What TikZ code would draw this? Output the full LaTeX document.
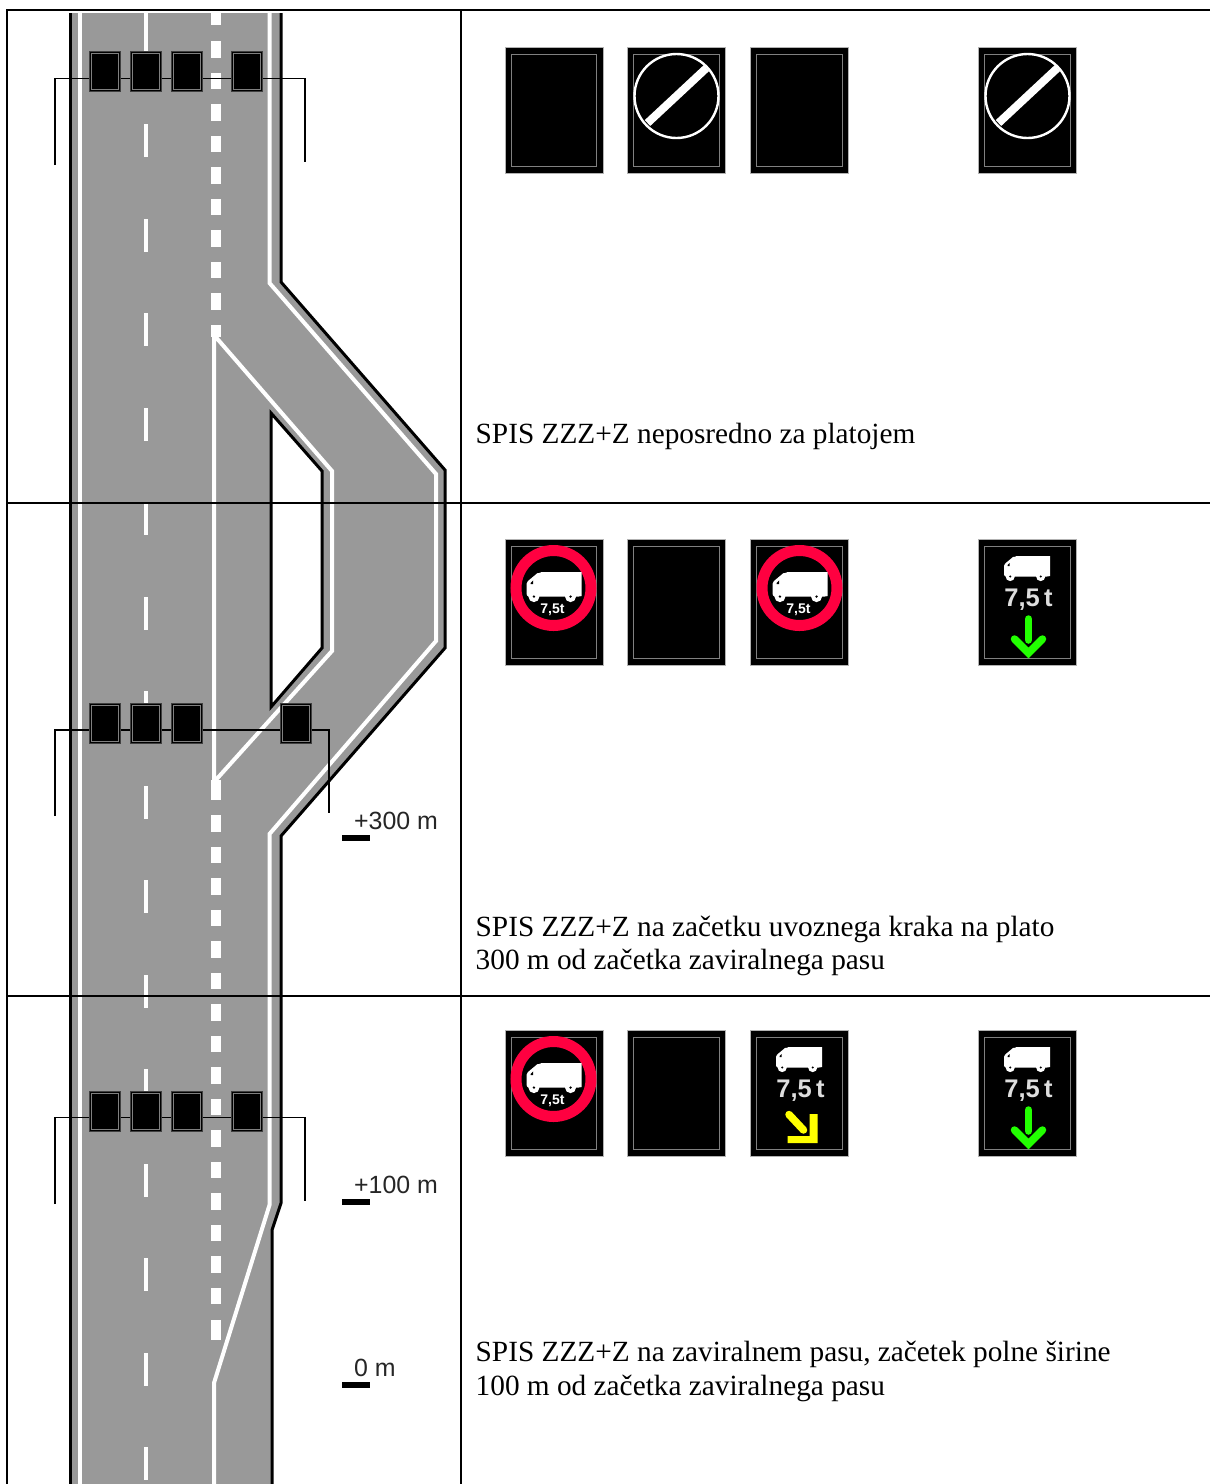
\documentclass[tikz,border=0pt]{standalone}
\usepackage{fontspec}
\setmainfont{Liberation Serif}
\newfontfamily\arialf{Liberation Sans}
\definecolor{roadgray}{HTML}{999999}
\definecolor{ringred}{HTML}{FF0040}
\definecolor{arrowgreen}{HTML}{22FF00}
\definecolor{arrowyellow}{HTML}{FFFF00}
\tikzset{
  frameline/.style={black,line width=2pt},
  edgeline/.style={black,line width=3pt,miter limit=20},
  whiteline/.style={white,line width=4pt,miter limit=20},
  cable/.style={black,line width=1.6pt},
  gantrysign/.style={rectangle,anchor=north west,fill=black,draw=black!75,line width=1pt,minimum width=31pt,minimum height=40pt,inner sep=0pt},
  gantryinner/.style={draw=black!50,line width=.7pt},
  vmssign/.style={rectangle,anchor=north west,fill=black,draw=black!30,line width=.8pt,minimum width=98pt,minimum height=126pt,inner sep=0pt},
  vmsinner/.style={draw=black!50,line width=.9pt},
  caption/.style={anchor=base west,inner sep=0pt,font=\fontsize{29.3}{33}\selectfont},
  kmlabel/.style={anchor=base west,inner sep=0pt,font=\arialf\fontsize{24.9}{28}\selectfont,text=black!85},
  kmbar/.style={rectangle,fill=black,minimum width=28pt,minimum height=6pt,inner sep=0pt,anchor=north west},
  tonnage/.style={inner sep=0pt,anchor=base,font=\arialf\bfseries\fontsize{25.5}{28}\selectfont,text=black!13},
}
% sign on the gantry
\newcommand\gsign[3]{%
  \node[gantrysign] (#1) at (#2,#3) {};
  \draw[gantryinner] ([shift={(2.5,2.5)}]#1.north west) rectangle ([shift={(-2.5,-2.5)}]#1.south east);
}
% variable message sign
\newcommand\vms[3]{%
  \node[vmssign] (#1) at (#2,#3) {};
  \draw[vmsinner] ([shift={(6.5,7)}]#1.north west) rectangle ([shift={(-6.5,-7)}]#1.south east);
}
\newcommand\truckshape[3]{%
  \begin{scope}[shift={(#1,#2)},scale=#3]
    \fill[white] (12.7,0) -- (46,0) -- (46,20) -- (43,20.5) -- (12,20.5) -- (2,20.5) to[out=180,in=-90] (0,18) -- (0,10) to[out=90,in=-135] (3,6) -- (9,1) to[out=-30,in=180] (12.7,0) -- cycle;
    \fill[white] (6.2,20.5) circle (4.6);
    \fill[white] (36.7,20.5) circle (4.6);
    \fill[black] (6.2,20.5) circle (1.1);
    \fill[black] (36.7,20.5) circle (1.1);
    \fill[black] (3.5,9) -- (5.5,7) -- (5.5,10) -- (3.5,10) -- cycle;
  \end{scope}
}
\newcommand\liftsign[2]{%
  \begin{scope}[shift={(#1,#2)}]
    \draw[white,line width=2.4pt] (49,49) circle (42);
    \draw[white,line width=8pt] (20,76) -- (79,21);
  \end{scope}
}
\newcommand\ringsign[3]{%
  \begin{scope}[shift={(#2,#3)}]
    \draw[ringred,line width=11pt] (49,49) circle (37.5);
    \truckshape{22}{33}{1.2}
    \node[inner sep=0pt,font=\arialf\bfseries\fontsize{14}{15}\selectfont,text=white] (#1) at (48,71) {7,5t};
  \end{scope}
}
\newcommand\infosign[3]{%
  \begin{scope}[shift={(#2,#3)}]
    \truckshape{25.5}{17}{1}
    \node[tonnage] (#1) at (50,67) {7,5\,t};
  \end{scope}
}
\newcommand\greenarrow[2]{%
  \begin{scope}[shift={(#1,#2)},line cap=round]
    \draw[arrowgreen,line width=7.5pt] (50,80) -- (50,101);
    \draw[arrowgreen,line width=7.5pt,line join=miter] (36,100) -- (50,114) -- (64,100);
  \end{scope}
}
\newcommand\yellowarrow[2]{%
  \begin{scope}[shift={(#1,#2)}]
    \draw[arrowyellow,line width=7.5pt,line cap=round] (38.5,84.5) -- (53,100);
    \fill[arrowyellow] (59,84) -- (67,84) -- (67,113) -- (37,113) -- (37,106) -- (59,106) -- cycle;
  \end{scope}
}
\begin{document}
\begin{tikzpicture}[x=1pt,y=-1pt]
\useasboundingbox (0,0) rectangle (1210,1484);
\fill[white] (0,0) rectangle (1210,1484);
% road surface
\fill[roadgray] (70,13) -- (281,13) -- (281,282) -- (445,470) -- (445,648) -- (281,836) -- (281,1203) -- (272,1230) -- (272,1484) -- (70,1484) -- cycle;
% gore opening
\fill[white] (271,413) -- (322,471) -- (322,648) -- (271,707) -- cycle;
% solid white markings
\draw[whiteline] (79.5,13) -- (79.5,1484);
\draw[whiteline] (269.5,13) -- (269.5,283) -- (436,474) -- (436,641) -- (269.5,834) -- (269.5,1205) -- (214,1383) -- (214,1484);
\draw[whiteline] (214,782) -- (214,335) -- (332,471) -- (332,651) -- cycle;
% lane dashes
\foreach \y in {124,218.5,313,407.5,502,596.5,691,785.5,880,974.5,1069,1163.5,1258,1352.5,1447}
  \fill[white] (144,\y) rectangle (148.4,\y+33);
\fill[white] (144,13) rectangle (148.4,52);
\fill[white] (211,13) rectangle (221,25);
\foreach \y in {41,72.5,104,135.5,167,198.5,230,261.5,293,815,846.5,878,909.5,941,972.5,1004,1035.5,1067,1098.5,1130,1161.5,1193,1224.5,1256,1287.5}
  \fill[white] (211,\y) rectangle (221,\y+16.5);
\fill[white] (211,324.5) rectangle (221,337);
\fill[white] (211,780) rectangle (221,800);
\fill[white] (211,1320) rectangle (221,1340);
% road edges
\draw[edgeline] (70,13) -- (70,1484);
\draw[edgeline] (281,13) -- (281,282) -- (445,470) -- (445,648) -- (281,836) -- (281,1203) -- (272,1230) -- (272,1484);
\draw[edgeline] (271,413) -- (322,471) -- (322,648) -- (271,707) -- cycle;
% table rules
\draw[frameline] (7,10) -- (1210,10);
\draw[frameline] (7,9) -- (7,1484);
\draw[frameline] (461,10) -- (461,1484);
\draw[frameline] (7,503) -- (1210,503);
\draw[frameline] (7,996) -- (1210,996);
% gantry 1
\gsign{ga}{88.7}{51}\gsign{gb}{129.7}{51}\gsign{gc}{170.7}{51}\gsign{gd}{230.7}{51}
\coordinate (gaL) at (55,78.5);\coordinate (gaF) at (55,165);
\coordinate (gdR) at (305,78.5);\coordinate (gdF) at (305,162);
\draw[cable] (gaF) -- (gaL) -- (ga.west |- gaL);
\draw[cable] (ga.east |- gaL) -- (gb.west |- gaL);
\draw[cable] (gb.east |- gaL) -- (gc.west |- gaL);
\draw[cable] (gc.east |- gaL) -- (gd.west |- gaL);
\draw[cable] (gd.east |- gaL) -- (gdR) -- (gdF);
% gantry 2
\gsign{ha}{88.7}{703}\gsign{hb}{129.7}{703}\gsign{hc}{170.7}{703}\gsign{hd}{279.7}{703}
\coordinate (haL) at (55,730);\coordinate (haF) at (55,816);
\coordinate (hdR) at (329,730);\coordinate (hdF) at (329,813);
\draw[cable] (haF) -- (haL) -- (ha.west |- haL);
\draw[cable] (ha.east |- haL) -- (hb.west |- haL);
\draw[cable] (hb.east |- haL) -- (hc.west |- haL);
\draw[cable] (hc.east |- haL) -- (hd.west |- haL);
\draw[cable] (hd.east |- haL) -- (hdR) -- (hdF);
% gantry 3
\gsign{ia}{88.7}{1091}\gsign{ib}{129.7}{1091}\gsign{ic}{170.7}{1091}\gsign{id}{230.7}{1091}
\coordinate (iaL) at (55,1117.5);\coordinate (iaF) at (55,1204);
\coordinate (idR) at (305,1117.5);\coordinate (idF) at (305,1201);
\draw[cable] (iaF) -- (iaL) -- (ia.west |- iaL);
\draw[cable] (ia.east |- iaL) -- (ib.west |- iaL);
\draw[cable] (ib.east |- iaL) -- (ic.west |- iaL);
\draw[cable] (ic.east |- iaL) -- (id.west |- iaL);
\draw[cable] (id.east |- iaL) -- (idR) -- (idF);
% distance marks
\node[kmbar] (barA) at (342,835) {};
\node[kmlabel] (txtA) at (354,829.5) {+300 m};
\node[kmbar] (barB) at (342,1199) {};
\node[kmlabel] (txtB) at (354,1193.5) {+100 m};
\node[kmbar] (barC) at (342,1382) {};
\node[kmlabel] (txtC) at (354,1376.5) {0 m};
% row 1 signs
\vms{sa}{504.5}{47}\vms{sb}{627}{47}\vms{sc}{750}{47}\vms{sd}{978}{47}
\liftsign{627.5}{47}
\liftsign{978.5}{47}
% row 2 signs
\vms{ta}{504.5}{539}\vms{tb}{627}{539}\vms{tc}{750}{539}\vms{td}{978}{539}
\ringsign{tat}{504.5}{539}
\ringsign{tct}{750.5}{539}
\infosign{tdt}{978.5}{539}
\greenarrow{978.5}{539}
% row 3 signs
\vms{ua}{504.5}{1030}\vms{ub}{627}{1030}\vms{uc}{750}{1030}\vms{ud}{978}{1030}
\ringsign{uat}{504.5}{1030}
\infosign{uct}{750.5}{1030}
\yellowarrow{750.5}{1030}
\infosign{udt}{978.5}{1030}
\greenarrow{978.5}{1030}
% captions
\node[caption] (capA) at (475.5,443.5) {SPIS ZZZ+Z neposredno za platojem};
\node[caption] (capB) at (475.5,936.5) {SPIS ZZZ+Z na začetku uvoznega kraka na plato};
\node[caption] (capC) at (475.5,969.5) {300 m od začetka zaviralnega pasu};
\node[caption] (capD) at (475.5,1361.5) {SPIS ZZZ+Z na zaviralnem pasu, začetek polne širine};
\node[caption] (capE) at (475.5,1395.5) {100 m od začetka zaviralnega pasu};
\end{tikzpicture}
\end{document}
